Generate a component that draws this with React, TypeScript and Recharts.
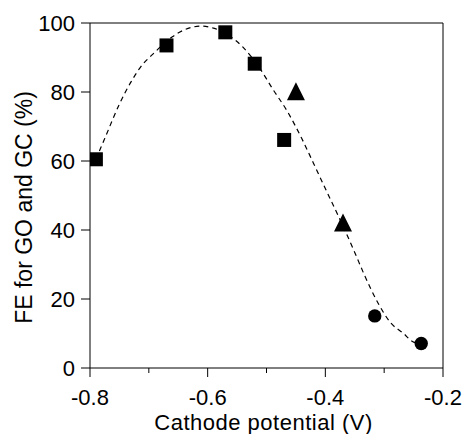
import React from 'react';
import {
  ComposedChart,
  XAxis,
  YAxis,
  Line,
  Scatter,
  ReferenceLine,
} from 'recharts';

// Measured points (cathode potential in V, FE in %)
const squareX = [-0.79, -0.67, -0.57, -0.52, -0.47];
const squareY = [60.5, 93.5, 97.3, 88.2, 66.1];
const triangleX = [-0.45, -0.37];
const triangleY = [80.2, 42.2];
const circleX = [-0.316, -0.237];
const circleY = [15.1, 7.1];

// Dashed guide curve through the data
const fitX = [
  -0.79, -0.775, -0.75, -0.73, -0.715, -0.69, -0.66, -0.64, -0.61, -0.59, -0.565, -0.54,
  -0.51, -0.49, -0.465, -0.44, -0.42, -0.4, -0.375, -0.35, -0.335, -0.31, -0.29, -0.267,
  -0.25, -0.237,
];
const fitY = [
  60.5, 66.5, 76.5, 83, 87, 91.5, 96, 98, 99.1, 98.5, 96.5, 93, 86.5, 81, 74.5, 66.5, 59.3,
  52, 43, 33.5, 27.5, 18.7, 13.3, 10, 7.5, 7.1,
];

// Axis ticks
const xTicks = [-0.8, -0.7, -0.6, -0.5, -0.4, -0.3, -0.2];
const xMajor = [-0.8, -0.6, -0.4, -0.2];
const yTicks = [0, 20, 40, 60, 80, 100];

const xLabel = 'Cathode potential (V)';
const yLabel = 'FE for GO and GC (%)';

const zip = (xs: number[], ys: number[]) => xs.map((x, i) => ({ x, y: ys[i] }));
const squares = zip(squareX, squareY);
const triangles = zip(triangleX, triangleY);
const circles = zip(circleX, circleY);
const fit = zip(fitX, fitY);

const FONT = '"Liberation Sans", Arial, Helvetica, sans-serif';

const SquareShape = (p: any) => (
  <rect x={p.cx - 7} y={p.cy - 7} width={14} height={14} fill="#000" />
);
const TriangleShape = (p: any) => (
  <polygon
    points={`${p.cx},${p.cy - 9} ${p.cx + 9},${p.cy + 9} ${p.cx - 9},${p.cy + 9}`}
    fill="#000"
  />
);
const CircleShape = (p: any) => <circle cx={p.cx} cy={p.cy} r={6.7} fill="#000" />;

const XTick = (p: any) => {
  const v: number = p.payload.value;
  const major = xMajor.some((m) => Math.abs(m - v) < 1e-6);
  return (
    <g>
      <line x1={p.x} x2={p.x} y1={p.y} y2={p.y + (major ? 9 : 5)} stroke="#000" strokeWidth={1} />
      {major && (
        <text
          x={p.x}
          y={p.y + 21}
          dy="0.71em"
          textAnchor="middle"
          fontSize={22}
          fontFamily={FONT}
          fill="#000"
        >
          {v.toFixed(1)}
        </text>
      )}
    </g>
  );
};

export default function App() {
  return (
    <div style={{ position: 'absolute', left: 0, top: 0, background: '#fff' }}>
      <ComposedChart
        width={463}
        height={434}
        margin={{ top: 23, right: 20, bottom: 0, left: 0 }}
      >
        <XAxis
          type="number"
          dataKey="x"
          domain={[-0.8, -0.2]}
          ticks={xTicks}
          allowDataOverflow
          height={66}
          tickSize={0}
          tickMargin={0}
          tickLine={false}
          axisLine={{ stroke: '#000', strokeWidth: 1 }}
          tick={<XTick />}
          interval={0}
          label={{
            value: xLabel,
            position: 'insideBottom',
            offset: 4.5,
            dx: -3,
            fontSize: 22,
            letterSpacing: 0.5,
            fontFamily: FONT,
            fill: '#000',
          }}
        />
        <YAxis
          type="number"
          domain={[0, 100]}
          ticks={yTicks}
          allowDataOverflow
          width={90}
          tickSize={9}
          tickMargin={6}
          interval={0}
          axisLine={{ stroke: '#000', strokeWidth: 1 }}
          tickLine={{ stroke: '#000', strokeWidth: 1 }}
          tick={{ fontSize: 22, fontFamily: FONT, fill: '#000' }}
          label={{
            value: yLabel,
            angle: -90,
            position: 'center',
            dx: -21,
            dy: 12,
            fontSize: 23,
            fontFamily: FONT,
            fill: '#000',
          }}
        />
        <ReferenceLine y={100} stroke="#000" strokeWidth={1} />
        <ReferenceLine x={-0.2} stroke="#000" strokeWidth={1} />
        <Line
          data={fit}
          dataKey="y"
          type="monotone"
          stroke="#000"
          strokeWidth={1.2}
          strokeDasharray="5 4"
          dot={false}
          activeDot={false}
          isAnimationActive={false}
        />
        <Scatter data={squares} dataKey="y" shape={SquareShape} isAnimationActive={false} />
        <Scatter data={triangles} dataKey="y" shape={TriangleShape} isAnimationActive={false} />
        <Scatter data={circles} dataKey="y" shape={CircleShape} isAnimationActive={false} />
      </ComposedChart>
    </div>
  );
}
